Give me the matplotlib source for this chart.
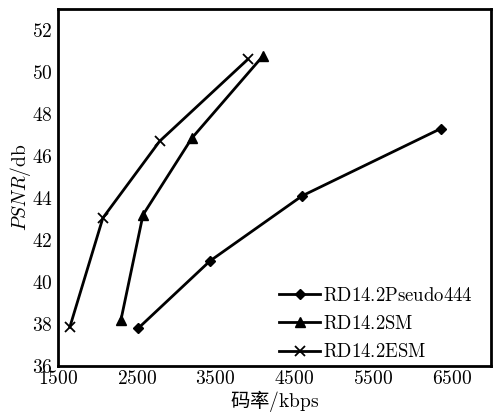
import matplotlib
matplotlib.use("Agg")
import matplotlib.pyplot as plt

plt.rcParams['mathtext.fontset'] = 'cm'
plt.rcParams['font.family'] = ['DejaVu Serif']

x_pseudo = [2520, 3430, 4600, 6360]
y_pseudo = [37.8, 41.0, 44.1, 47.3]
x_sm = [2300, 2580, 3200, 4100]
y_sm = [38.2, 43.2, 46.85, 50.75]
x_esm = [1650, 2070, 2790, 3910]
y_esm = [37.85, 43.05, 46.7, 50.6]
labels = ["RD14.2Pseudo444", "RD14.2SM", "RD14.2ESM"]
xticks = [1500, 2500, 3500, 4500, 5500, 6500]
yticks = [36, 38, 40, 42, 44, 46, 48, 50, 52]

fig = plt.figure(figsize=(4.95, 4.15), dpi=100)
ax = fig.add_axes([58/495, 1 - 366/415, (491-58)/495, (366-9)/415])

ax.plot(x_pseudo, y_pseudo, color='black', lw=2, marker='D', ms=5.5, label=r'$\mathrm{%s}$' % labels[0])
ax.plot(x_sm, y_sm, color='black', lw=2, marker='^', ms=7, label=r'$\mathrm{%s}$' % labels[1])
ax.plot(x_esm, y_esm, color='black', lw=2, marker='x', ms=7, mew=1.3, label=r'$\mathrm{%s}$' % labels[2])

ax.set_xlim(1500, 7000)
ax.set_ylim(36, 53)
ax.set_xticks(xticks)
ax.set_yticks(yticks)
ax.set_xticklabels([r'$%d$' % v for v in xticks], fontsize=14)
ax.set_yticklabels([r'$%d$' % v for v in yticks], fontsize=14)
ax.tick_params(axis='y', length=0, pad=4)
ax.tick_params(axis='x', length=0, pad=3)
for s in ax.spines.values():
    s.set_linewidth(2)

ax.set_ylabel(r'$PSNR/\mathrm{db}$', fontsize=14, labelpad=-1)
ax.set_xlabel(r'码率$/\mathrm{kbps}$', fontsize=14, family=['Noto Sans CJK SC', 'DejaVu Sans'], labelpad=0)

leg = ax.legend(loc='lower right', frameon=False, fontsize=13.5, handlelength=2.2,
                handletextpad=0.15, labelspacing=0.55, borderaxespad=0.0, borderpad=0.1,
                bbox_to_anchor=(0.962, 0.008))

fig.savefig('out.png', dpi=100)
